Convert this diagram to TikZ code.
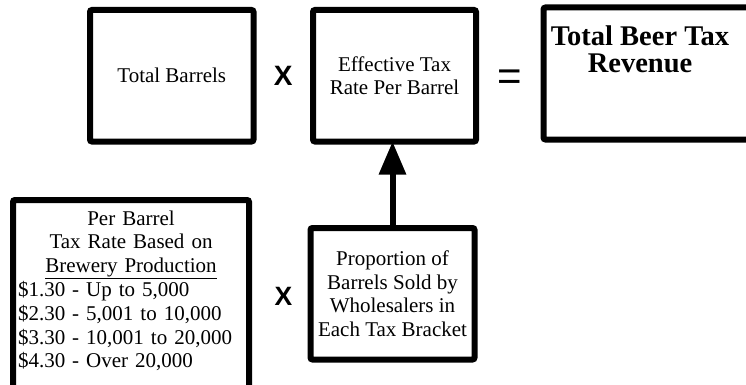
\documentclass[tikz,border=0pt]{standalone}
\usepackage{fontspec}
\setmainfont{Liberation Serif}
\newfontfamily\opsans{Liberation Sans}
\usetikzlibrary{positioning,calc,arrows.meta}

\begin{document}
\begin{tikzpicture}[x=1pt, y=-1pt,
        box/.style={draw, line width=6pt, rounded corners=2pt, outer sep=0pt, inner sep=0pt, align=center, font=\fontsize{21}{23.8}\selectfont},
        op/.style={inner sep=0pt, font=\opsans\bfseries\fontsize{28}{28}\selectfont}]
        \clip (0,0) rectangle (746,385);
        % Nodes
        \node (total) [box, minimum width=163.5pt, minimum height=131.5pt, anchor=north west] at (90,10) {Total Barrels};
        \node (rate) [box, minimum width=163pt, minimum height=131.5pt, right=59.5pt of total] {Effective Tax\\Rate Per Barrel};
        \node (revenue) [box, minimum width=240pt, minimum height=132pt, right=67.5pt of rate, yshift=2.25pt] {};
        \node (revtext) [align=center, anchor=north, inner sep=0pt, font=\bfseries\fontsize{28.5}{27.5}\selectfont] at ($(revenue.north west)+(96.5,18)$) {Total Beer Tax\\Revenue};
        \node (prop) [box, minimum width=164pt, minimum height=131.5pt, below=86.5pt of rate, xshift=-2pt] {Proportion of\\Barrels Sold by\\Wholesalers in\\Each Tax Bracket};
        \node (rates) [box, text width=226pt, inner xsep=5pt, inner ysep=10.5pt, align=left, anchor=north west] at (13,200) {%
            {\centering Per Barrel\\Tax Rate Based on\\\underline{Brewery Production}\par}
            \$1.30 - Up to 5,000\\
            \$2.30 - 5,001 to 10,000\\
            \$3.30 - 10,001 to 20,000\\
            \$4.30 - Over 20,000\par\rule{0pt}{25pt}};
        \node (times1) [op] at ($(total.east)!0.5!(rate.west)$) {X};
        \node (equals) [op, font=\opsans\fontsize{42}{42}\selectfont, yshift=-6pt] at ($(rate.east)!0.5!(revenue.west)$) {=};
        \node (times2) [op, font=\opsans\bfseries\fontsize{26.5}{26.5}\selectfont, left=18pt of prop, yshift=-2.25pt] {X};

        % Arrows
        \draw [-{Triangle[width=26pt,length=33pt]}, line width=6pt] (prop.north) -- (prop.north |- rate.south);
    \end{tikzpicture}
\end{document}
